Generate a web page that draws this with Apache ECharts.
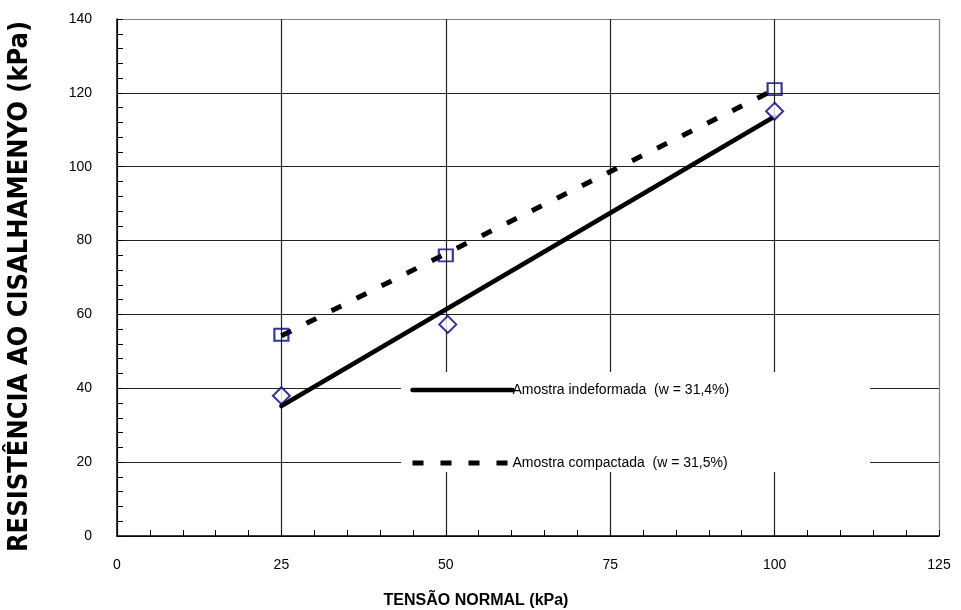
<!DOCTYPE html>
<html>
<head>
<meta charset="utf-8">
<script src="https://cdn.jsdelivr.net/npm/echarts@6/dist/echarts.min.js"></script>
<style>html,body{margin:0;padding:0;background:#fff;}#c{width:961px;height:610px;}</style>
</head>
<body>
<div id="c"></div>
<script>
// Data
var xTicks = [0, 25, 50, 75, 100, 125];
var yTicks = [0, 20, 40, 60, 80, 100, 120, 140];
var undisturbedX = [25, 50.3, 100];
var undisturbedY = [38, 57.3, 115];
var compactedX = [25, 50, 100];
var compactedY = [54.5, 76, 121];
var trendX = [25, 100];
var undisturbedTrend = [35.2, 113.6];
var compactedTrend = [54.2, 120.9];
var nameUndisturbed = 'Amostra indeformada  (w = 31,4%)';
var nameCompacted = 'Amostra compactada  (w = 31,5%)';
var xTitle = 'TENSÃO NORMAL (kPa)';
var yTitle = 'RESISTÊNCIA AO CISALHAMENYO (kPa)';

function pairs(xs, ys) { return xs.map(function (x, i) { return [x, ys[i]]; }); }

var chart = echarts.init(document.getElementById('c'));
var font = 'Liberation Sans, Arial, sans-serif';
var solidStyle = { color: '#000', width: 4.5, type: 'solid', cap: 'round' };
var dashStyle = { color: '#000', width: 5, type: [11, 17] };
chart.setOption({
  animation: false,
  backgroundColor: '#fff',
  grid: { left: 117, right: 22, top: 19, bottom: 74, show: false, containLabel: false, outerBoundsMode: 'none' },
  xAxis: {
    type: 'value', min: xTicks[0], max: xTicks[xTicks.length - 1], interval: 25,
    name: xTitle, nameLocation: 'middle', nameGap: 57,
    nameTextStyle: { fontFamily: font, fontWeight: 'bold', fontSize: 16, color: '#000', padding: [0, 104, 0, 0] },
    axisLine: { lineStyle: { color: '#000', width: 1.5 } },
    axisTick: { show: true, inside: true, length: 6, lineStyle: { color: '#000' } },
    minorTick: { show: true, splitNumber: 5, length: 6, lineStyle: { color: '#000' } },
    axisLabel: { margin: 22, fontFamily: font, fontSize: 14, color: '#000' },
    splitLine: { show: true, lineStyle: { color: ['#222', '#222', '#222', '#222', '#222', '#808080'], width: 1.2 } }
  },
  yAxis: {
    type: 'value', min: yTicks[0], max: yTicks[yTicks.length - 1], interval: 20,
    name: yTitle, nameLocation: 'middle', nameGap: 84, nameRotate: 90,
    nameTextStyle: { fontFamily: 'DejaVu Sans Condensed, DejaVu Sans', fontWeight: 'bold', fontSize: 27, color: '#000', padding: [0, 18, 0, 0] },
    axisLine: { show: true, lineStyle: { color: '#000', width: 1.5 } },
    axisTick: { show: true, inside: true, length: 6, lineStyle: { color: '#000' } },
    minorTick: { show: true, splitNumber: 5, length: 6, lineStyle: { color: '#000' } },
    axisLabel: { margin: 25, fontFamily: font, fontSize: 14, color: '#000' },
    splitLine: { show: true, lineStyle: { color: ['#222', '#222', '#222', '#222', '#222', '#222', '#222', '#808080'], width: 1.2 } }
  },
  graphic: [{
    type: 'rect', z: 1, silent: true,
    shape: { x: 401, y: 372, width: 469, height: 100 },
    style: { fill: '#fff' }
  }],
  legend: {
    data: [
      { name: nameUndisturbed, lineStyle: solidStyle, itemStyle: { opacity: 0 } },
      { name: nameCompacted, lineStyle: dashStyle, itemStyle: { opacity: 0 } }
    ],
    orient: 'vertical', left: 405, top: 378, itemGap: 59,
    itemWidth: 100, itemHeight: 12, z: 5,
    textStyle: { fontFamily: font, fontSize: 14, color: '#000', padding: [0, 0, 0, -5] }
  },
  series: [
    {
      name: nameUndisturbed, type: 'line', data: pairs(trendX, undisturbedTrend),
      symbol: 'none', z: 3, lineStyle: solidStyle
    },
    {
      name: nameCompacted, type: 'line', data: pairs(trendX, compactedTrend),
      symbol: 'none', z: 3, lineStyle: dashStyle
    },
    {
      name: 'indeformada pts', type: 'scatter', data: pairs(undisturbedX, undisturbedY),
      symbol: 'diamond', symbolSize: [17, 17], z: 4,
      itemStyle: { color: '#fff', borderColor: '#000080', borderWidth: 2 }
    },
    {
      name: 'compactada pts', type: 'scatter', data: pairs(compactedX, compactedY),
      symbol: 'rect', symbolSize: [14, 12], z: 4,
      itemStyle: { color: 'rgba(255,255,255,0)', borderColor: '#000080', borderWidth: 2 }
    }
  ]
});
</script>
</body>
</html>
